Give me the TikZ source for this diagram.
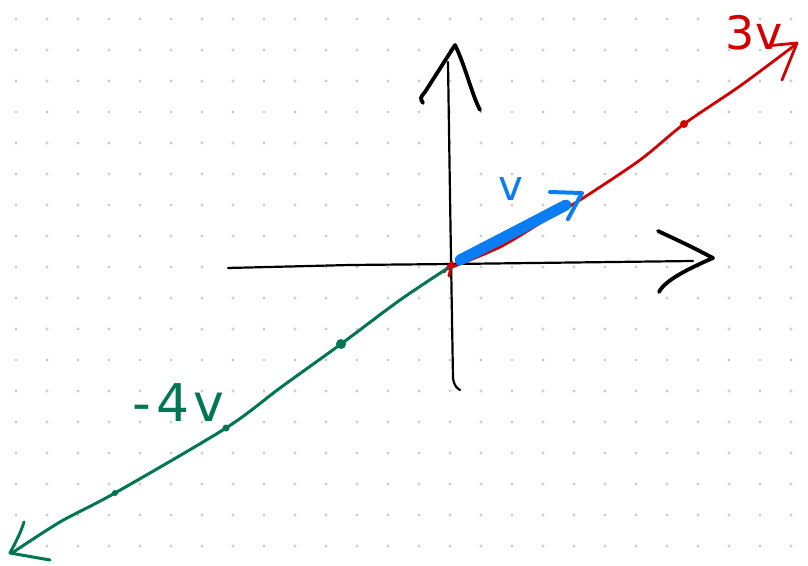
\documentclass[tikz,border=0pt]{standalone}
\usepackage{fontspec}
\setmainfont{DejaVu Sans}
\definecolor{inkred}{RGB}{212,0,0}
\definecolor{inkblue}{RGB}{10,125,245}
\definecolor{inkgreen}{RGB}{0,118,82}
\definecolor{griddot}{RGB}{205,205,205}
\begin{document}
\begin{tikzpicture}[x=1pt,y=-1pt,
  axis/.style={black,line width=2.2pt,line cap=round,line join=round},
  chev/.style={black,line width=3.8pt,line cap=round,line join=round},
  redink/.style={inkred,line width=2.8pt,line cap=round,line join=round},
  greenink/.style={inkgreen,line width=3pt,line cap=round,line join=round},
  blueink/.style={inkblue,line cap=round,line join=round},
  lab/.style={inner sep=0pt}]
\useasboundingbox (0,0) rectangle (808,565);
\fill[white] (0,0) rectangle (808,565);
% dot grid
\foreach \i in {0,...,25}
  \foreach \j in {0,...,17}
    \fill[griddot] (16+31*\i,19+31*\j) circle (1.7);
% axes
\draw[axis] (228,268) -- (350,265) -- (452,264) -- (693,261);
\draw[chev] (658,231) .. controls (690,246) .. (713,258) .. controls (690,268) and (665,280) .. (659,292);
\draw[axis] (448,62) .. controls (450,200) and (452,320) .. (453,378) .. controls (454,386) and (457,388) .. (460,390);
\draw[chev] (423,103) .. controls (420,98) .. (425,92) -- (455,45) .. controls (465,65) and (472,95) .. (480,110);
% red vector 3v
\draw[redink] plot[smooth,tension=0.5] coordinates {(447,269) (500,247) (550,217) (580,200) (640,160) (684,124) (740,86) (795,45)};
\draw[redink] (766,46) -- (797,43) -- (782,80);
\draw[redink] (444,272) -- (452,262) -- (449,276);
\fill[inkred] (684,124) circle (4);
\node[lab,text=inkred,font=\fontsize{46}{46}\selectfont] (lab3v) at (754,33) {3v};
% green vector -4v
\draw[greenink] plot[smooth,tension=0.5] coordinates {(448,268) (400,300) (341,344) (280,388) (226,428) (115,493) (60,522) (12,553)};
\draw[greenink] (24,522) .. controls (20,535) and (14,545) .. (10,553) -- (50,560);
\fill[inkgreen] (341,344) circle (5);
\fill[inkgreen] (226,428) circle (3.5);
\fill[inkgreen] (115,493) circle (3);
\node[lab,text=inkgreen,font=\fontsize{52}{52}\selectfont] (lab4v) at (178,403) {-\hspace{6pt}4\hspace{3pt}v};
% blue vector v
\draw[blueink,line width=11pt] (460,260) -- (520,229) -- (566,205);
\draw[blueink,line width=4pt] (550,192) -- (582,193) -- (568,219);
\node[lab,text=inkblue,font=\fontsize{42}{42}\selectfont] (labv) at (511,189) {v};
\end{tikzpicture}
\end{document}
